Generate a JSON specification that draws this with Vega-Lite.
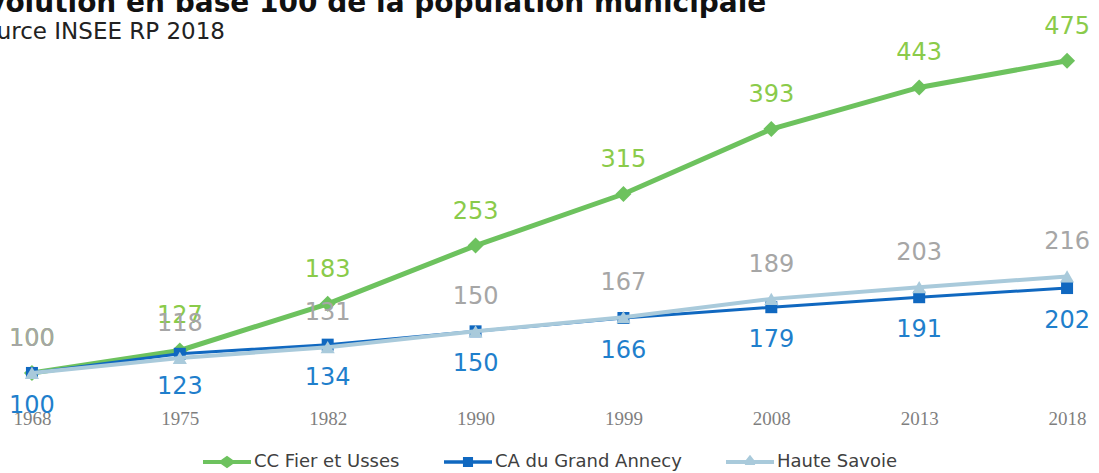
{
  "$schema": "https://vega.github.io/schema/vega-lite/v6.json",
  "autosize": "none",
  "width": 1099,
  "height": 355,
  "padding": {"left": 0, "top": 50, "right": 0, "bottom": 68},
  "background": "white",
  "title": {
    "text": "Évolution en base 100 de la population municipale",
    "subtitle": "Source INSEE RP 2018",
    "anchor": "start",
    "frame": "group",
    "dx": -32,
    "offset": -29,
    "font": "DejaVu Sans",
    "fontSize": 28,
    "fontWeight": "bold",
    "color": "#111111",
    "subtitleFont": "DejaVu Sans",
    "subtitleFontSize": 23,
    "subtitleColor": "#222222",
    "subtitlePadding": 3
  },
  "data": {
    "values": [
      {"year": "1968", "series": "CC Fier et Usses", "v": 100},
      {"year": "1975", "series": "CC Fier et Usses", "v": 127},
      {"year": "1982", "series": "CC Fier et Usses", "v": 183},
      {"year": "1990", "series": "CC Fier et Usses", "v": 253},
      {"year": "1999", "series": "CC Fier et Usses", "v": 315},
      {"year": "2008", "series": "CC Fier et Usses", "v": 393},
      {"year": "2013", "series": "CC Fier et Usses", "v": 443},
      {"year": "2018", "series": "CC Fier et Usses", "v": 475},
      {"year": "1968", "series": "CA du Grand Annecy", "v": 100},
      {"year": "1975", "series": "CA du Grand Annecy", "v": 123},
      {"year": "1982", "series": "CA du Grand Annecy", "v": 134},
      {"year": "1990", "series": "CA du Grand Annecy", "v": 150},
      {"year": "1999", "series": "CA du Grand Annecy", "v": 166},
      {"year": "2008", "series": "CA du Grand Annecy", "v": 179},
      {"year": "2013", "series": "CA du Grand Annecy", "v": 191},
      {"year": "2018", "series": "CA du Grand Annecy", "v": 202},
      {"year": "1968", "series": "Haute Savoie", "v": 100},
      {"year": "1975", "series": "Haute Savoie", "v": 118},
      {"year": "1982", "series": "Haute Savoie", "v": 131},
      {"year": "1990", "series": "Haute Savoie", "v": 150},
      {"year": "1999", "series": "Haute Savoie", "v": 167},
      {"year": "2008", "series": "Haute Savoie", "v": 189},
      {"year": "2013", "series": "Haute Savoie", "v": 203},
      {"year": "2018", "series": "Haute Savoie", "v": 216}
    ]
  },
  "encoding": {
    "x": {
      "field": "year",
      "type": "ordinal",
      "scale": {"type": "point", "padding": 0.216},
      "axis": {
        "title": null,
        "domain": false,
        "ticks": false,
        "grid": false,
        "labelAngle": 0,
        "labelFont": "Liberation Serif",
        "labelFontSize": 19,
        "labelColor": "#7f7f7f",
        "labelPadding": 4
      }
    },
    "y": {
      "field": "v",
      "type": "quantitative",
      "scale": {"domain": [61.5, 488], "nice": false, "zero": false},
      "axis": null
    }
  },
  "layer": [
    {
      "transform": [{"filter": "datum.series === 'CC Fier et Usses'"}],
      "mark": {"type": "line", "strokeWidth": 5, "color": "#6DC25E"},
      "encoding": {}
    },
    {
      "transform": [{"filter": "datum.series === 'CC Fier et Usses'"}],
      "mark": {"type": "point", "shape": "diamond", "filled": true, "size": 256, "color": "#6DC25E", "opacity": 1}
    },
    {
      "transform": [{"filter": "datum.series === 'CA du Grand Annecy'"}],
      "mark": {"type": "line", "strokeWidth": 3, "color": "#1068C0"},
      "encoding": {}
    },
    {
      "transform": [{"filter": "datum.series === 'CA du Grand Annecy'"}],
      "mark": {"type": "point", "shape": "square", "filled": true, "size": 144, "color": "#1068C0", "opacity": 1}
    },
    {
      "transform": [{"filter": "datum.series === 'Haute Savoie'"}],
      "mark": {"type": "line", "strokeWidth": 4, "color": "#A9CADB"},
      "encoding": {}
    },
    {
      "transform": [{"filter": "datum.series === 'Haute Savoie'"}],
      "mark": {"type": "point", "shape": "triangle-up", "filled": true, "size": 200, "color": "#A9CADB", "opacity": 1}
    },
    {
      "transform": [{"filter": "datum.series === 'CC Fier et Usses'"}],
      "mark": {"type": "text", "dy": -34, "font": "DejaVu Sans", "fontSize": 24, "color": "#8ACB4A"},
      "encoding": {"text": {"field": "v", "type": "quantitative"}}
    },
    {
      "transform": [{"filter": "datum.series === 'Haute Savoie'"}],
      "mark": {"type": "text", "dy": -34, "font": "DejaVu Sans", "fontSize": 24, "color": "#A6A6A6"},
      "encoding": {"text": {"field": "v", "type": "quantitative"}}
    },
    {
      "transform": [{"filter": "datum.series === 'CA du Grand Annecy'"}],
      "mark": {"type": "text", "dy": 33, "font": "DejaVu Sans", "fontSize": 24, "color": "#1F7FCC"},
      "encoding": {"text": {"field": "v", "type": "quantitative"}}
    },
    {
      "mark": {"type": "point", "filled": true, "opacity": 0, "size": 1},
      "encoding": {
        "color": {
          "field": "series",
          "type": "nominal",
          "scale": {
            "domain": ["CC Fier et Usses", "CA du Grand Annecy", "Haute Savoie"],
            "range": ["#6DC25E", "#1068C0", "#A9CADB"]
          },
          "legend": {
            "title": null,
            "orient": "none",
            "legendX": 203,
            "legendY": 388,
            "direction": "horizontal",
            "labelFont": "DejaVu Sans",
            "labelFontSize": 18,
            "labelColor": "#404040",
            "labelLimit": 400,
            "columnPadding": 44,
            "labelOffset": 3,
            "symbolSize": 2304,
            "symbolOpacity": 1,
            "symbolStrokeWidth": 0
          }
        },
        "shape": {
          "field": "series",
          "type": "nominal",
          "scale": {
            "domain": ["CC Fier et Usses", "CA du Grand Annecy", "Haute Savoie"],
            "range": [
              "M-1,-0.08L-0.25,-0.08L0,-0.26L0.25,-0.08L1,-0.08L1,0.08L0.25,0.08L0,0.26L-0.25,0.08L-1,0.08Z",
              "M-1,-0.07H-0.21V-0.21H0.21V-0.07H1V0.07H0.21V0.21H-0.21V0.07H-1Z",
              "M-1,-0.08H-0.17L0,-0.3L0.17,-0.08H1V0.08H0.2L0.22,0.12H-0.22L-0.2,0.08H-1Z"
            ]
          },
          "legend": {
            "title": null,
            "orient": "none",
            "legendX": 203,
            "legendY": 388,
            "direction": "horizontal",
            "labelFont": "DejaVu Sans",
            "labelFontSize": 18,
            "labelColor": "#404040",
            "labelLimit": 400,
            "columnPadding": 44,
            "labelOffset": 3,
            "symbolSize": 2304,
            "symbolOpacity": 1,
            "symbolStrokeWidth": 0
          }
        }
      }
    }
  ],
  "config": {
    "view": {"stroke": null}
  }
}
